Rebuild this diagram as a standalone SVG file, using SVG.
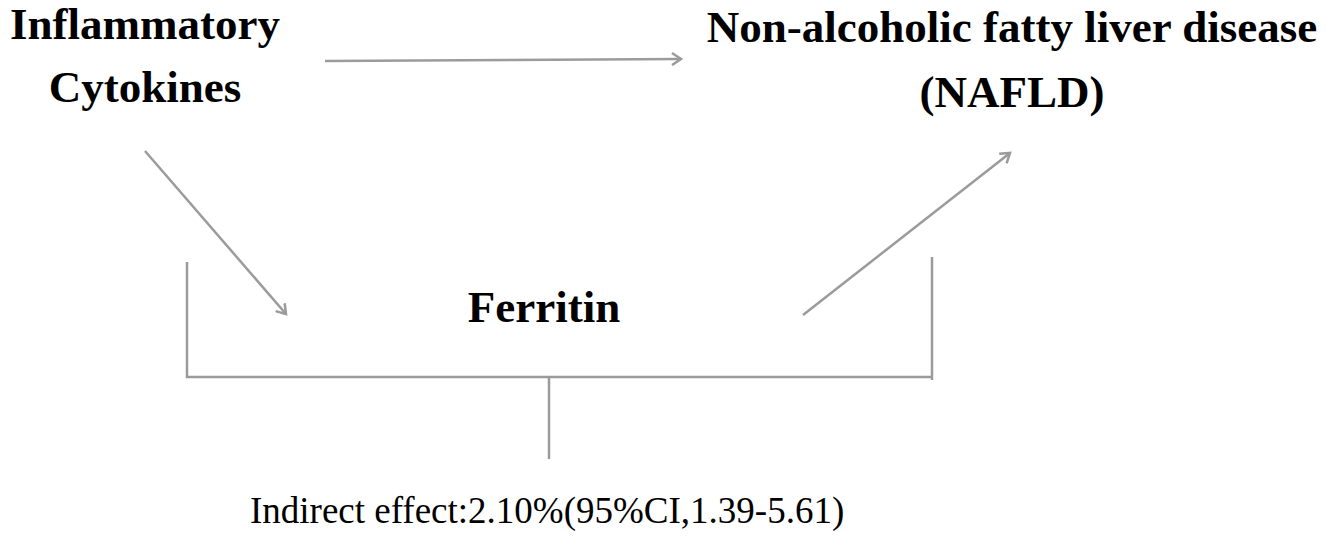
<svg xmlns="http://www.w3.org/2000/svg" width="1326" height="536" viewBox="0 0 1326 536">
<style>
.lbl{font-family:"Liberation Serif","Times New Roman",serif;font-weight:bold;font-size:45px;fill:#000;text-anchor:middle}
.note{font-family:"Liberation Serif","Times New Roman",serif;font-size:37px;fill:#000}
.ln{stroke:#9b9b9b;stroke-width:2.5;fill:none;stroke-linecap:butt}
</style>
<defs>
<marker id="arr" markerUnits="userSpaceOnUse" markerWidth="14" markerHeight="14" refX="11" refY="7" orient="auto" viewBox="0 0 14 14">
<path d="M2,1 L11,7 L2,13" fill="none" stroke="#9b9b9b" stroke-width="2.5"/>
</marker>
</defs>
<rect width="1326" height="536" fill="#fff"/>
<g id="node-cytokines">
<text class="lbl" x="145" y="39">Inflammatory</text>
<text class="lbl" x="145" y="102">Cytokines</text>
</g>
<g id="node-nafld">
<text class="lbl" x="1012" y="42">Non-alcoholic fatty liver disease</text>
<text class="lbl" x="1012" y="107">(NAFLD)</text>
</g>
<g id="node-ferritin">
<text class="lbl" x="544" y="322">Ferritin</text>
</g>
<g id="node-indirect">
<text class="note" x="250" y="523">Indirect effect:2.10%(95%CI,1.39-5.61)</text>
</g>
<g id="connectors">
<line class="ln" x1="325" y1="61" x2="681" y2="59" marker-end="url(#arr)"/>
<line class="ln" x1="145" y1="151" x2="286" y2="314" marker-end="url(#arr)"/>
<line class="ln" x1="803" y1="315" x2="1010" y2="153" marker-end="url(#arr)"/>
<polyline class="ln" points="187,262 187,377 932,377"/>
<line class="ln" x1="932" y1="257" x2="932" y2="380"/>
<line class="ln" x1="549" y1="378" x2="549" y2="459"/>
</g>
</svg>
